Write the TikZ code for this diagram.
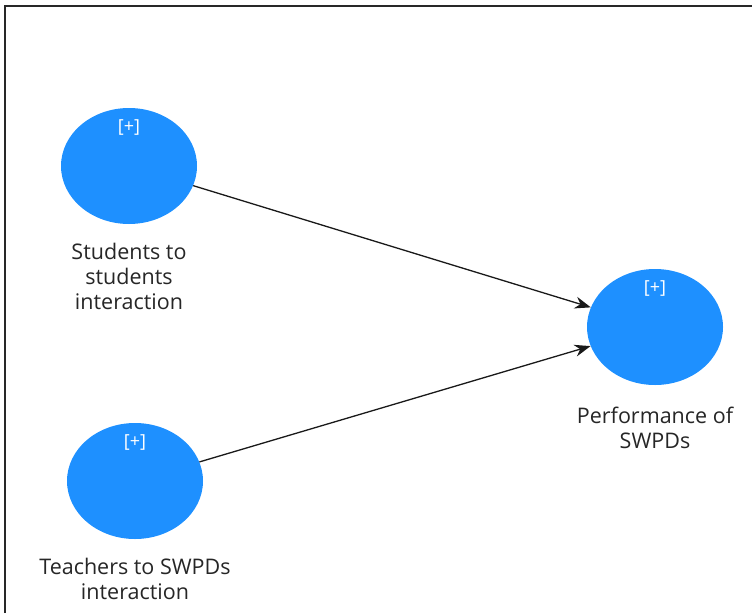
\documentclass[tikz,border=0pt]{standalone}
\usepackage{fontspec}
\setmainfont{Open Sans}
\usetikzlibrary{positioning,shapes.geometric,arrows.meta}

\definecolor{latentblue}{RGB}{30,144,255}
\definecolor{framegray}{RGB}{40,40,40}

\tikzset{
  latent/.style={ellipse, fill=latentblue, draw=none, minimum width=136pt, minimum height=116pt},
  plusmark/.style={text=white, font=\fontsize{18}{20}\selectfont, inner sep=0pt},
  lbl/.style={align=center, font=\fontsize{21.5}{25}\selectfont, text=black!85, inner sep=0pt},
  relpath/.style={draw=black!90, line width=1.3pt, -{Stealth[length=16pt,width=12pt]}},
  frame/.style={draw=framegray, line width=2pt}
}

\begin{document}
\begin{tikzpicture}[x=1pt,y=-1pt]
\useasboundingbox (0,0) rectangle (752,613);

% outer frame (only top and left edges inside the picture)
\path (4.5,613) coordinate (fbl);
\path (752,5.5) coordinate (ftr);
\draw [frame] (fbl) |- (ftr);

% constructs
\node [latent] (sts) at (129,166) {};
\node [latent] (tts) at (135,481) {};
\node [latent] (perf) at (655,327) {};

\node [plusmark] (sts-plus) at ([yshift=-20pt]sts.north) {[+]};
\node [plusmark] (tts-plus) at ([yshift=-20pt]tts.north) {[+]};
\node [plusmark] (perf-plus) at ([yshift=-20pt]perf.north) {[+]};

\node [lbl, below=19pt of sts] (sts-lbl) {Students to\\students\\interaction};
\node [lbl, below=19pt of tts] (tts-lbl) {Teachers to SWPDs\\interaction};
\node [lbl, below=22pt of perf] (perf-lbl) {Performance of\\SWPDs};

% paths
\draw [relpath] (sts) -- (perf);
\draw [relpath] (tts) -- (perf);

\end{tikzpicture}
\end{document}
